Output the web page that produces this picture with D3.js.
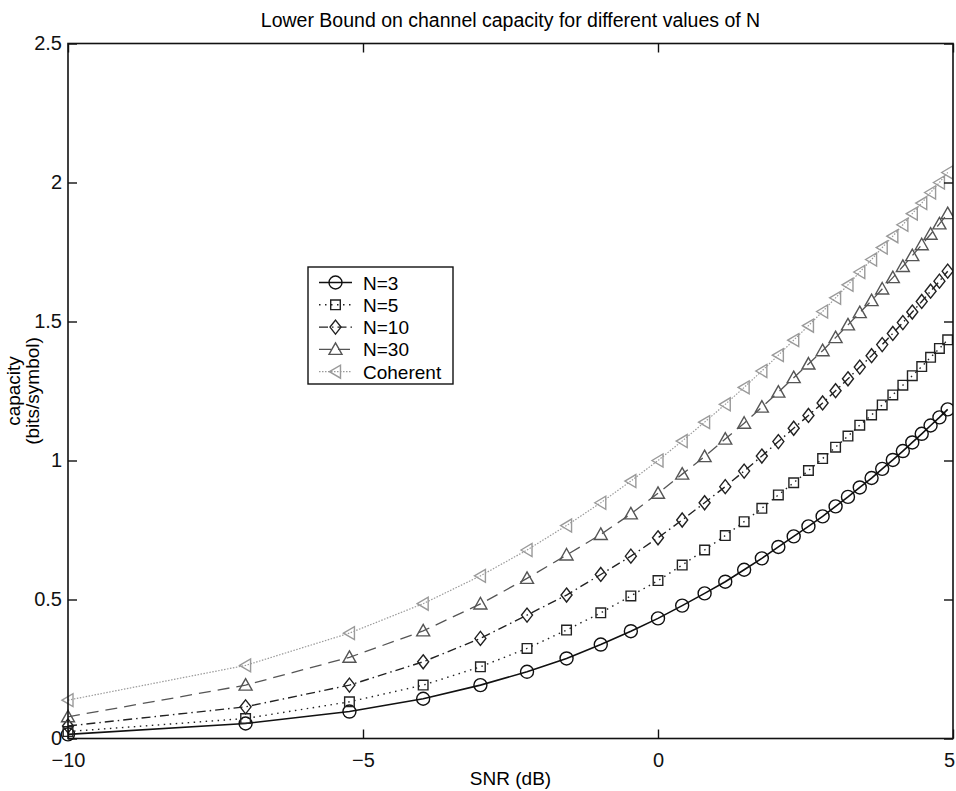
<!DOCTYPE html>
<html>
<head>
<meta charset="utf-8">
<script src="https://cdn.jsdelivr.net/npm/d3@7"></script>
<style>
  body { margin: 0; background: #fff; }
  svg { display: block; font-family: "Liberation Sans", Arial, sans-serif; }
  .axis text { font-size: 20px; fill: #111; }
</style>
</head>
<body>
<svg id="chart" width="956" height="791"></svg>
<script>
// SNR sample points in dB (linear SNR 0.1 .. 3.1)
const snrDb = [-10.00, -6.99, -5.23, -3.98, -3.01, -2.22, -1.55, -0.97, -0.46, 0.00,
  0.41, 0.79, 1.14, 1.46, 1.76, 2.04, 2.30, 2.55, 2.79, 3.01,
  3.22, 3.42, 3.62, 3.80, 3.98, 4.15, 4.31, 4.47, 4.62, 4.77, 4.91];

const capN3 = [0.015, 0.054, 0.097, 0.143, 0.192, 0.240, 0.288, 0.338, 0.386, 0.432,
  0.478, 0.522, 0.564, 0.607, 0.648, 0.689, 0.727, 0.763, 0.799, 0.835,
  0.869, 0.903, 0.937, 0.970, 1.002, 1.034, 1.065, 1.096, 1.126, 1.155, 1.184];

const capN5 = [0.025, 0.072, 0.132, 0.192, 0.258, 0.324, 0.390, 0.452, 0.513, 0.568,
  0.624, 0.678, 0.730, 0.780, 0.828, 0.876, 0.920, 0.964, 1.007, 1.048,
  1.088, 1.127, 1.164, 1.200, 1.236, 1.271, 1.305, 1.338, 1.371, 1.403, 1.434];

const capN10 = [0.045, 0.114, 0.192, 0.276, 0.360, 0.444, 0.516, 0.590, 0.656, 0.722,
  0.786, 0.848, 0.906, 0.962, 1.016, 1.068, 1.116, 1.162, 1.207, 1.251,
  1.294, 1.336, 1.377, 1.417, 1.457, 1.496, 1.534, 1.572, 1.609, 1.645, 1.681];

const capN30 = [0.078, 0.192, 0.292, 0.387, 0.484, 0.576, 0.660, 0.734, 0.808, 0.882,
  0.951, 1.014, 1.077, 1.134, 1.192, 1.246, 1.298, 1.347, 1.395, 1.442,
  1.488, 1.532, 1.575, 1.617, 1.658, 1.698, 1.737, 1.776, 1.814, 1.851, 1.888];

const capCoherent = [0.138, 0.263, 0.379, 0.485, 0.585, 0.678, 0.766, 0.848, 0.926, 1.000,
  1.070, 1.138, 1.202, 1.263, 1.322, 1.379, 1.433, 1.485, 1.536, 1.585,
  1.632, 1.678, 1.723, 1.766, 1.807, 1.848, 1.888, 1.926, 1.964, 2.000, 2.036];

const seriesNames = ["N=3", "N=5", "N=10", "N=30", "Coherent"];
const xTicks = [-10, -5, 0, 5];
const yTicks = [0, 0.5, 1, 1.5, 2, 2.5];

const W = 956, H = 791;
const margin = {top: 43.5, left: 68, bottom: 52.5, right: 3};

// marker path builders (centered at 0,0)
const markerPaths = {
  circle: () => { const p = d3.path(); p.arc(0, 0, 6.5, 0, 2 * Math.PI); return p.toString(); },
  square: () => "M-4.8,-4.8H4.8V4.8H-4.8Z",
  diamond: () => "M0,-7L5.5,0L0,7L-5.5,0Z",
  triUp: () => "M0,-6.5L6.5,5L-6.5,5Z",
  triLeft: () => "M-6,0L5,-6.5L5,6.5Z"
};

const styles = [
  {data: capN3, color: "#111", dash: null, width: 1.6, marker: "circle"},
  {data: capN5, color: "#222", dash: "1.5,4.5", width: 1.4, marker: "square"},
  {data: capN10, color: "#222", dash: "9,4,1.5,4", width: 1.4, marker: "diamond"},
  {data: capN30, color: "#555", dash: "12,7", width: 1.3, marker: "triUp"},
  {data: capCoherent, color: "#9a9a9a", dash: "1.5,1.5", width: 1.2, marker: "triLeft"}
];

const svg = d3.select("#chart");
const ih = H - margin.top - margin.bottom;

const x = d3.scaleLinear().domain([-10, 5]).range([margin.left, margin.left + 885]);
const y = d3.scaleLinear().domain([0, 2.5]).range([margin.top + ih, margin.top]);

// title
svg.append("text")
  .attr("x", (x(-10) + x(5)) / 2)
  .attr("y", 27)
  .attr("text-anchor", "middle")
  .style("font-size", "19.5px")
  .text("Lower Bound on channel capacity for different values of N");

// clip for curves
svg.append("clipPath").attr("id", "plotclip")
  .append("rect")
  .attr("x", x(-10) - 8).attr("y", y(2.5))
  .attr("width", x(5) - x(-10) + 8).attr("height", y(0) - y(2.5) + 8);

// curves
const line = d3.line().x((d, i) => x(snrDb[i])).y(d => y(d));
const plot = svg.append("g").attr("clip-path", "url(#plotclip)");

styles.forEach(s => {
  plot.append("path")
    .datum(s.data)
    .attr("fill", "none")
    .attr("stroke", s.color)
    .attr("stroke-width", s.width)
    .attr("stroke-dasharray", s.dash)
    .attr("d", line);

  plot.selectAll(null)
    .data(s.data)
    .join("path")
    .attr("d", markerPaths[s.marker]())
    .attr("transform", (d, i) => `translate(${x(snrDb[i])},${y(d)})`)
    .attr("fill", "none")
    .attr("stroke", s.color)
    .attr("stroke-width", 1.4);
});

// AXES (matlab style: ticks inward, on all four sides)
const tick = 9;
svg.append("g")
  .attr("class", "x axis")
  .attr("transform", `translate(0,${y(0)})`)
  .call(d3.axisBottom(x).tickValues(xTicks).tickSize(-tick).tickPadding(14).tickFormat(d => d < 0 ? "\u2212" + Math.abs(d) : d))
  .call(g => g.select(".domain").remove());

// last x label sits on the right edge, nudge it in so it isn't cut
svg.selectAll(".x.axis .tick text").filter(d => d === 5).attr("dx", -4);

svg.append("g")
  .attr("class", "x axis")
  .attr("transform", `translate(0,${y(2.5)})`)
  .call(d3.axisTop(x).tickValues(xTicks).tickSize(-tick).tickFormat(""))
  .call(g => g.select(".domain").remove());

svg.append("g")
  .attr("class", "y axis")
  .attr("transform", `translate(${x(-10)},0)`)
  .call(d3.axisLeft(y).tickValues(yTicks).tickSize(-tick).tickPadding(6).tickFormat(d => d))
  .call(g => g.select(".domain").remove());

svg.append("g")
  .attr("class", "y axis")
  .attr("transform", `translate(${x(5)},0)`)
  .call(d3.axisRight(y).tickValues(yTicks).tickSize(-tick).tickFormat(""))
  .call(g => g.select(".domain").remove());

svg.selectAll(".axis .tick line").attr("stroke", "#111").attr("stroke-width", 1.4);

// frame
svg.append("rect")
  .attr("x", x(-10)).attr("y", y(2.5))
  .attr("width", x(5) - x(-10)).attr("height", y(0) - y(2.5))
  .attr("fill", "none").attr("stroke", "#111").attr("stroke-width", 1.6);

// axis labels
svg.append("text")
  .attr("x", (x(-10) + x(5)) / 2)
  .attr("y", 785)
  .attr("text-anchor", "middle")
  .style("font-size", "19px")
  .text("SNR (dB)");

const ylab = svg.append("text")
  .attr("transform", `translate(20,${(y(0) + y(2.5)) / 2}) rotate(-90)`)
  .attr("text-anchor", "middle")
  .style("font-size", "19px");
ylab.append("tspan").attr("x", 0).attr("dy", 0).text("capacity");
ylab.append("tspan").attr("x", 0).attr("dy", 19).text("(bits/symbol)");

// LEGEND
const legend = svg.append("g").attr("transform", "translate(308,267)");
legend.append("rect")
  .attr("width", 145).attr("height", 117)
  .attr("fill", "#fff").attr("stroke", "#111").attr("stroke-width", 1.4);

styles.forEach((s, i) => {
  const ly = 15.5 + i * 22.3;
  const row = legend.append("g").attr("transform", `translate(0,${ly})`);
  row.append("line")
    .attr("x1", 11).attr("x2", 44).attr("y1", 0).attr("y2", 0)
    .attr("stroke", s.color).attr("stroke-width", s.width)
    .attr("stroke-dasharray", s.dash);
  row.append("path")
    .attr("d", markerPaths[s.marker]())
    .attr("transform", "translate(27.5,0)")
    .attr("fill", "none").attr("stroke", s.color).attr("stroke-width", 1.4);
  row.append("text")
    .attr("x", 55).attr("y", 7)
    .style("font-size", "19px")
    .text(seriesNames[i]);
});
</script>
</body>
</html>
